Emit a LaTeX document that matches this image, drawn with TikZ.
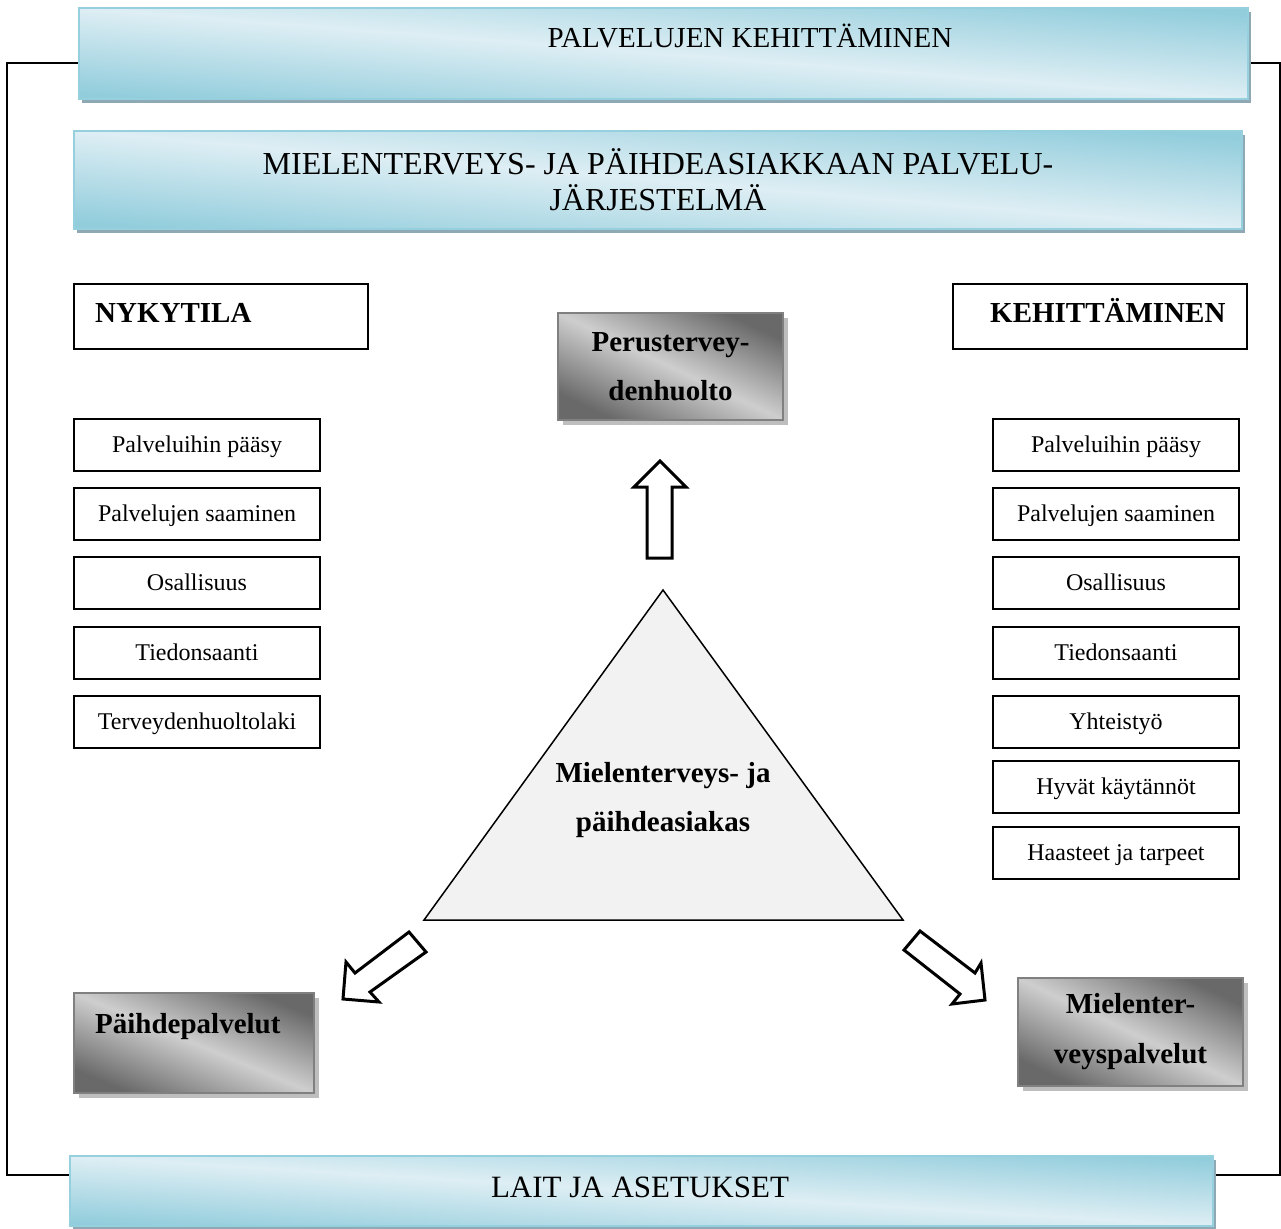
\documentclass[tikz,border=0pt]{standalone}
\usepackage{fontspec}
\setmainfont{Liberation Serif}
\usetikzlibrary{shadows}
\definecolor{bnLight}{RGB}{222,238,244}
\definecolor{bnDark}{RGB}{146,205,220}
\definecolor{bnBorder}{RGB}{150,207,222}
\definecolor{bnShadow}{RGB}{143,169,180}
\definecolor{gyLight}{RGB}{206,206,206}
\definecolor{gyDark}{RGB}{105,105,105}
\definecolor{gyBorder}{RGB}{128,128,128}
\definecolor{gyShadow}{RGB}{190,190,190}
\definecolor{triFill}{RGB}{242,242,242}
\begin{document}
\begin{tikzpicture}[x=1pt,y=-1pt,
  banner/.style={draw=bnBorder, line width=2pt, inner sep=0pt,
    general shadow={fill=bnShadow, shadow xshift=3pt, shadow yshift=-4pt},
    top color=bnDark, bottom color=bnDark, middle color=bnLight, shading angle=#1},
  graybox/.style={draw=gyBorder, line width=2pt, inner sep=0pt, align=center,
    general shadow={fill=gyShadow, shadow xshift=5pt, shadow yshift=-5pt},
    top color=gyDark, bottom color=gyDark, middle color=gyLight, shading angle=#1},
  hdrbox/.style={draw, line width=1.5pt, inner sep=0pt, minimum width=294pt, minimum height=65pt},
  hdrtext/.style={font=\fontsize{29}{34}\selectfont\bfseries, inner sep=0pt},
  smallbox/.style={draw, line width=1.5pt, inner sep=0pt, minimum width=246pt, minimum height=52pt,
    text height=16pt, text depth=2pt, font=\fontsize{24}{28}\selectfont},
  blockarrow/.style={draw, line width=3pt, fill=white, line join=miter},
  frameline/.style={draw, line width=1.5pt},
]
\useasboundingbox (0,0) rectangle (1281,1228);

% outer frame
\draw[frameline] (7,63) rectangle (1280,1175);

% banners
\node[banner=-4.45, minimum width=1169pt, minimum height=91pt] (top) at (663.5,53.5) {};
\node[font=\fontsize{29}{34}\selectfont, inner sep=0pt] (toptext) at (750,36) {PALVELUJEN KEHITTÄMINEN};

\node[banner=-4.8, minimum width=1168pt, minimum height=98pt] (sys) at (658,180) {};
\node[font=\fontsize{32}{36}\selectfont, align=center, inner sep=0pt] (systext) at (658,180)
  {MIELENTERVEYS- JA PÄIHDEASIAKKAAN PALVELU-\\JÄRJESTELMÄ};

\node[banner=-3.5, minimum width=1143pt, minimum height=70pt] (laws) at (641.5,1191) {};
\node[font=\fontsize{31}{36}\selectfont, inner sep=0pt, anchor=base] (lawstext) at (640,1197) {LAIT JA ASETUKSET};

% headers
\node[hdrbox] (nyk) at (221,316.5) {};
\node[hdrtext, anchor=base west] (nyktext) at (95,322) {NYKYTILA};
\node[hdrbox] (keh) at (1100,316.5) {};
\node[hdrtext, anchor=base west] (kehtext) at (990,322) {KEHITTÄMINEN};

% left boxes
\node[smallbox] (l1) at (197,445) {Palveluihin pääsy};
\node[smallbox] (l2) at (197,514) {Palvelujen saaminen};
\node[smallbox] (l3) at (197,583) {Osallisuus};
\node[smallbox] (l4) at (197,653) {Tiedonsaanti};
\node[smallbox] (l5) at (197,722) {Terveydenhuoltolaki};

% right boxes
\node[smallbox] (r1) at (1116,445) {Palveluihin pääsy};
\node[smallbox] (r2) at (1116,514) {Palvelujen saaminen};
\node[smallbox] (r3) at (1116,583) {Osallisuus};
\node[smallbox] (r4) at (1116,653) {Tiedonsaanti};
\node[smallbox] (r5) at (1116,722) {Yhteistyö};
\node[smallbox] (r6) at (1116,787) {Hyvät käytännöt};
\node[smallbox] (r7) at (1116,853) {Haasteet ja tarpeet};

% gray boxes
\node[graybox=-25.4, minimum width=225pt, minimum height=107pt,
  font=\fontsize{29}{49}\selectfont\bfseries] (perus) at (670.5,366.5) {Perustervey-\\denhuolto};
\node[graybox=-22.6, minimum width=240pt, minimum height=100pt] (paihde) at (194,1043) {};
\node[hdrtext, anchor=base west] (paihdetext) at (95,1033) {Päihdepalvelut};
\node[graybox=-25.6, minimum width=225pt, minimum height=108pt,
  font=\fontsize{29}{50}\selectfont\bfseries] (mt) at (1130.5,1032) {Mielenter-\\veyspalvelut};

% triangle
\coordinate (apex) at (663,590);
\coordinate (bl) at (424,920);
\coordinate (br) at (903,920);
\draw[fill=triFill, line width=1.5pt, line join=miter] (apex) -- (bl) -- (br) -- cycle;
\node[font=\fontsize{29}{49}\selectfont\bfseries, align=center, inner sep=0pt] (client) at (663,800)
  {Mielenterveys- ja\\päihdeasiakas};

% block arrows
\path[blockarrow] (647,558) -- (647,487) -- (634,487) -- (660,461) -- (686,487) -- (672,487) -- (672,558) -- cycle;
\path[blockarrow] (409,932) -- (355,973) -- (346,962) -- (343,999) -- (379,1002) -- (370,992) -- (426,952) -- cycle;
\path[blockarrow] (920,931) -- (975,973) -- (981,963) -- (985,1000) -- (952,1004) -- (960,994) -- (904,950) -- cycle;
\end{tikzpicture}
\end{document}
